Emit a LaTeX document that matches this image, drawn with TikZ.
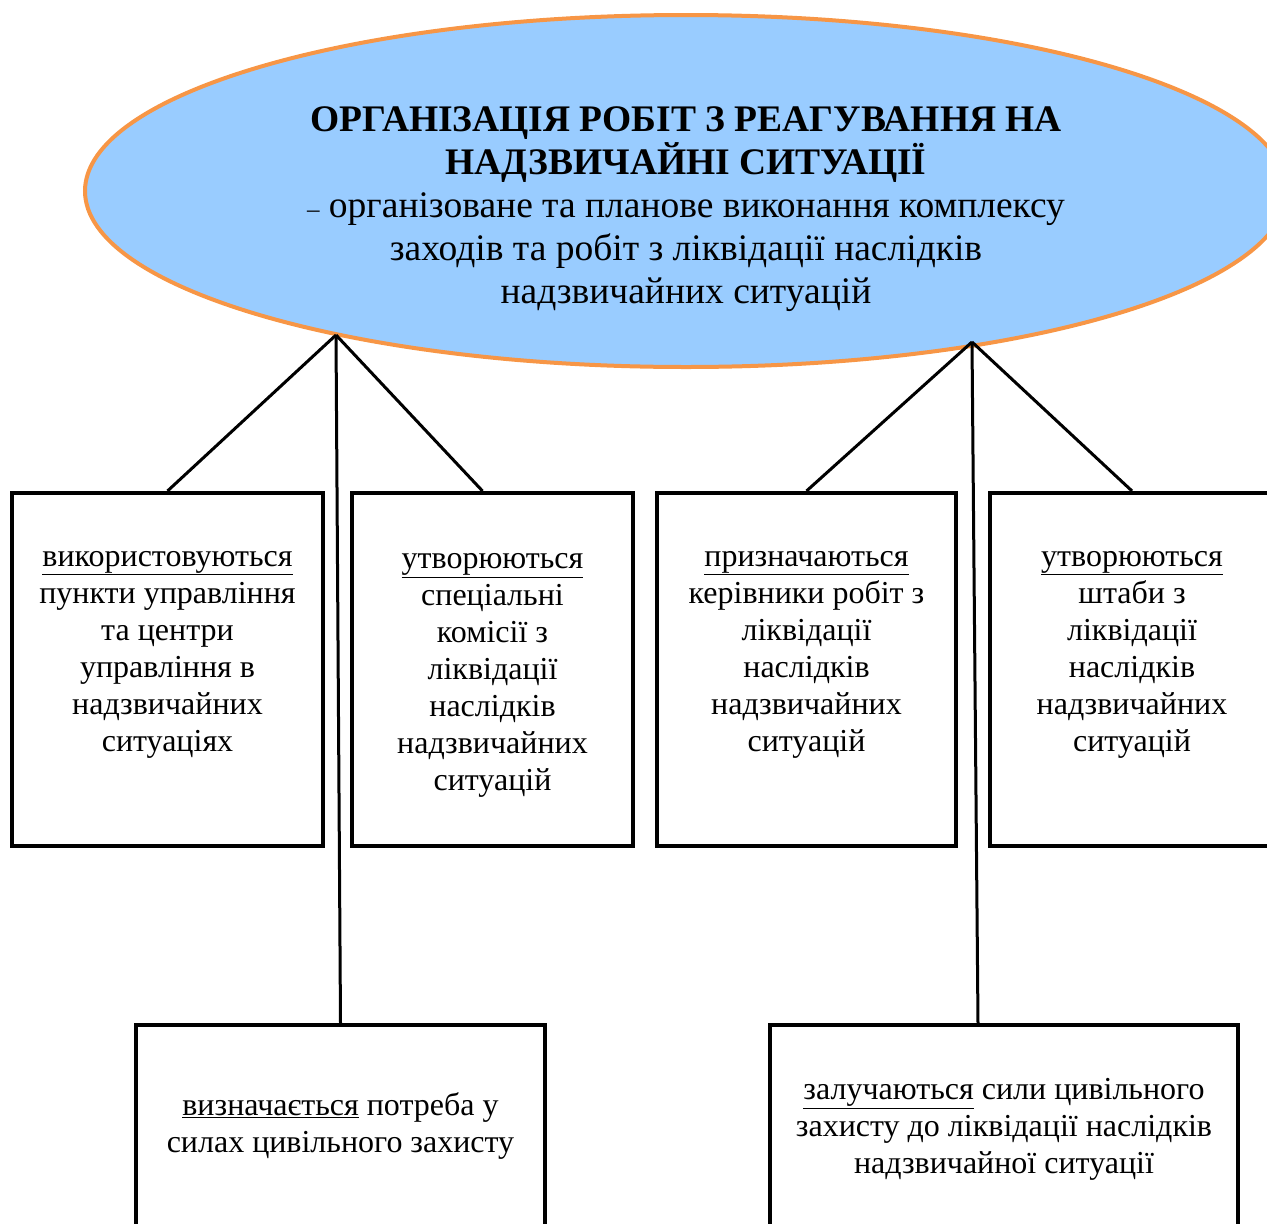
\documentclass[tikz,border=0pt]{standalone}
\usepackage{fontspec}
\setmainfont{Liberation Serif}
\usetikzlibrary{shapes.geometric}

\definecolor{ovalfill}{HTML}{99CCFF}
\definecolor{ovalline}{HTML}{F79646}

\begin{document}
\begin{tikzpicture}[x=1pt,y=-1pt,
  box/.style={draw,line width=4pt,fill=white,align=center,inner sep=0pt,
    font=\fontsize{32}{37}\selectfont},
  link/.style={line width=3pt}]
\useasboundingbox (0,0) rectangle (1267,1224);
\clip (0,0) rectangle (1267,1224);

% oval with the definition
\node[ellipse,draw=ovalline,fill=ovalfill,line width=4pt,
  minimum width=1202pt,minimum height=352pt] (oval) at (686,191) {};
\node[align=center,font=\fontsize{37.5}{43}\selectfont] (title) at ([yshift=-18pt]oval.center)
  {\textbf{ОРГАНІЗАЦІЯ РОБІТ З РЕАГУВАННЯ НА}\\
   \textbf{НАДЗВИЧАЙНІ СИТУАЦІЇ}\\
   {\fontsize{25}{43}\selectfont –} організоване та планове виконання комплексу\\
   заходів та робіт з ліквідації наслідків\\
   надзвичайних ситуацій};

\coordinate (lapex) at (336,335);
\coordinate (rapex) at (972,342);

% upper row
\node[box,minimum width=311pt,minimum height=353pt] (use) at (167.5,669.5)
  {\underline{використовуються}\\ пункти управління\\ та центри\\ управління в\\
   надзвичайних\\ ситуаціях\\ \mbox{}};
\node[box,minimum width=281pt,minimum height=353pt] (make) at (492.5,669.5)
  {\rule{0pt}{27pt}\underline{утворюються}\\ спеціальні\\ комісії з\\ ліквідації\\ наслідків\\
   надзвичайних\\ ситуацій};
\node[box,minimum width=299pt,minimum height=353pt] (head) at (806.5,669.5)
  {\underline{призначаються}\\ керівники робіт з\\ ліквідації\\ наслідків\\
   надзвичайних\\ ситуацій\\ \mbox{}};
\node[box,minimum width=284pt,minimum height=353pt] (staff) at (1132,669.5)
  {\underline{утворюються}\\ штаби з\\ ліквідації\\ наслідків\\
   надзвичайних\\ ситуацій\\ \mbox{}};

% lower row
\node[box,minimum width=409pt,minimum height=202pt] (need) at (340.5,1126)
  {\underline{визначається} потреба у\\ силах цивільного захисту};
\node[box,minimum width=468pt,minimum height=209pt] (force) at (1004,1129.5)
  {\underline{залучаються} сили цивільного\\ захисту до ліквідації наслідків\\
   надзвичайної ситуації};

\draw[link] (lapex) -- (use.north);
\draw[link] (lapex) -- ([xshift=-10pt]make.north);
\draw[link] (lapex) -- (need.north);
\draw[link] (rapex) -- (head.north);
\draw[link] (rapex) -- (staff.north);
\draw[link] (rapex) -- ([xshift=-26pt]force.north);

\end{tikzpicture}
\end{document}
